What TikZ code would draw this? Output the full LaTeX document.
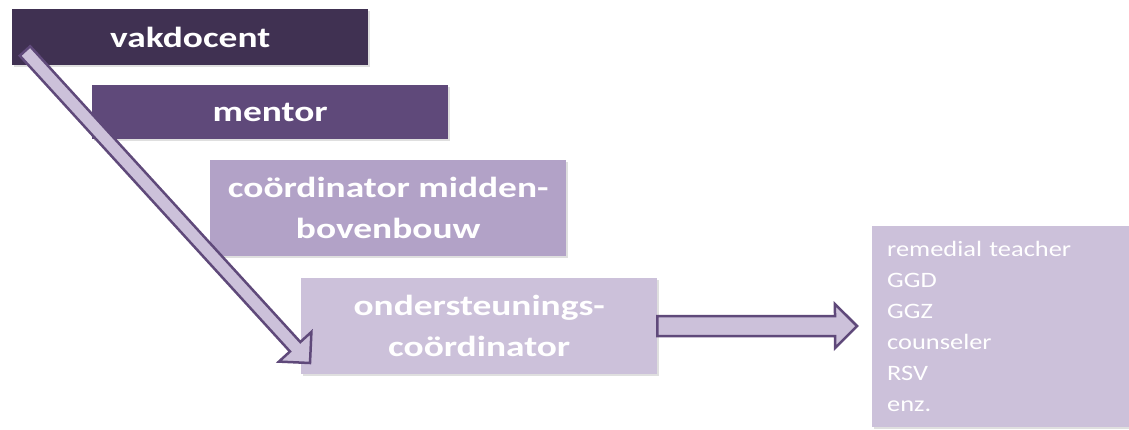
\documentclass[tikz,border=0pt]{standalone}
\usepackage{fontspec}
\usetikzlibrary{calc,shadows}

\newfontfamily\boxfont[FakeStretch=1.2]{Carlito}
\newfontfamily\kopfont[FakeStretch=1.29]{Carlito}

\definecolor{paarsdonker}{HTML}{403152}
\definecolor{paarsmid}{HTML}{5F497A}
\definecolor{paarslicht}{HTML}{B2A2C7}
\definecolor{paarsbleek}{HTML}{CCC1DA}

\tikzset{
    blok/.style={rectangle, inner sep=0pt, minimum width=356pt, text=white, align=center,
        font=\kopfont\bfseries\fontsize{29}{41}\selectfont,
        drop shadow={shadow xshift=2pt, shadow yshift=-2pt, opacity=0.25}},
    pijl/.style={fill=paarsbleek, draw=paarsmid, line width=2.5pt}
}

% block arrow: shaft half-width, from, to
\newcommand\blokpijl[3]{%
    \coordinate (pb) at ($(#3)!22pt!(#2)$);
    \draw[pijl] ($(#2)!#1!90:(#3)$) -- ($(pb)!#1!90:(#3)$) -- ($(pb)!22pt!90:(#3)$)
        -- (#3) -- ($(pb)!22pt!-90:(#3)$) -- ($(pb)!#1!-90:(#3)$) -- ($(#2)!#1!-90:(#3)$) -- cycle;
}

\begin{document}
\begin{tikzpicture}[x=1pt, y=-1pt]
    \useasboundingbox (0,0) rectangle (1129,429);

    % the four steps
    \node[blok, fill=paarsdonker, anchor=north west, minimum height=56pt] (vakdocent) at (12,9) {vakdocent};
    \node[blok, fill=paarsmid, anchor=north west, minimum height=54pt] (mentor) at (92,85) {mentor};
    \node[blok, fill=paarslicht, anchor=north west, minimum height=96pt] (coordinator) at (210,160) {coördinator midden-\\bovenbouw};
    \node[blok, fill=paarsbleek, anchor=north west, minimum height=96pt] (ondersteuning) at (301,278) {ondersteunings-\\coördinator};

    % outside help
    \node[rectangle, fill=paarsbleek, anchor=north west, minimum width=257pt, minimum height=201pt,
        text width=227pt, inner xsep=15pt, inner ysep=0pt, align=left, text=white,
        font=\boxfont\fontsize{22}{31}\selectfont,
        drop shadow={shadow xshift=2pt, shadow yshift=-2pt, opacity=0.25}] (extern) at (872,226)
        {remedial teacher\\GGD\\GGZ\\counseler\\RSV\\enz.};

    % arrows
    \coordinate (start) at (25,51);
    \coordinate (eind) at (310,363);
    \blokpijl{7pt}{start}{eind}

    \coordinate (doel) at (857,326);
    \blokpijl{10pt}{ondersteuning.east}{doel}
\end{tikzpicture}
\end{document}
